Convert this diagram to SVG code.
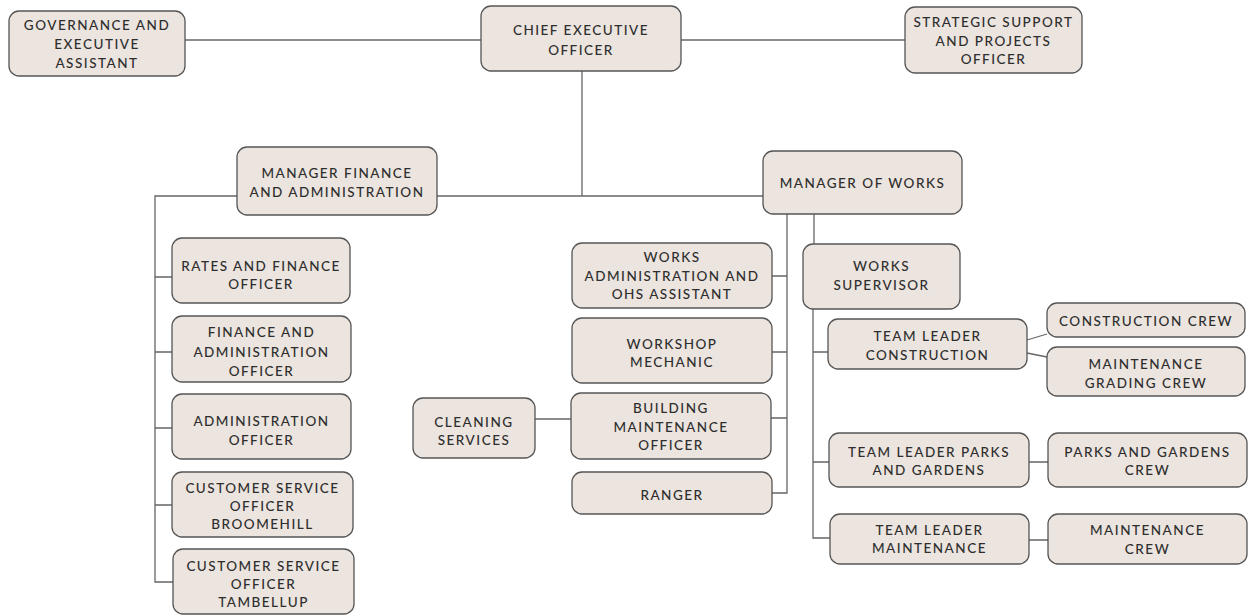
<svg xmlns="http://www.w3.org/2000/svg" width="1250" height="615" viewBox="0 0 1250 615">
<style>
.n rect{fill:#ece4de;stroke:#555;stroke-width:1.3}
.n text{font-family:Lato,"Liberation Sans",sans-serif;font-size:13.5px;letter-spacing:1.5px;fill:#2e2e2e;text-anchor:middle;font-weight:500}
#conn path{fill:none;stroke:#666;stroke-width:1.3}
</style>
<rect width="1250" height="615" fill="#fff"/>
<g id="conn">
<path d="M185,40 H481"/>
<path d="M681,40 H905"/>
<path d="M582,71 V196"/>
<path d="M437,196 H763"/>
<path d="M237,196 H155 V582 H173"/>
<path d="M155,277 H172 M155,352 H172 M155,428 H172 M155,505 H172"/>
<path d="M787,214 V493 H772 M772,276 H787 M772,352 H787 M771,418 H787"/>
<path d="M535,419 H571"/>
<path d="M814,214 V244"/>
<path d="M813,309 V538 H830 M813,352 H828 M813,462 H829"/>
<path d="M1027,340 L1047,334 M1027,353 L1047,357"/>
<path d="M1029,462 H1048 M1029,540 H1048"/>
</g>
<g id="gov" class="n"><rect x="9" y="11" width="176" height="65" rx="10"/><text x="97"><tspan x="97" y="30">GOVERNANCE AND</tspan><tspan x="97" y="49">EXECUTIVE</tspan><tspan x="97" y="68">ASSISTANT</tspan></text></g>
<g id="ceo" class="n"><rect x="481" y="6" width="200" height="65" rx="10"/><text><tspan x="581" y="35">CHIEF EXECUTIVE</tspan><tspan x="581" y="55">OFFICER</tspan></text></g>
<g id="strategic" class="n"><rect x="905" y="7" width="177" height="66" rx="10"/><text><tspan x="993.5" y="27">STRATEGIC SUPPORT</tspan><tspan x="993.5" y="46">AND PROJECTS</tspan><tspan x="993.5" y="64">OFFICER</tspan></text></g>
<g id="mfa" class="n"><rect x="237" y="147" width="200" height="68" rx="10"/><text><tspan x="337" y="178">MANAGER FINANCE</tspan><tspan x="337" y="197">AND ADMINISTRATION</tspan></text></g>
<g id="rates" class="n"><rect x="172" y="238" width="178" height="65" rx="10"/><text><tspan x="261" y="271">RATES AND FINANCE</tspan><tspan x="261" y="289">OFFICER</tspan></text></g>
<g id="finadmin" class="n"><rect x="172" y="316" width="179" height="66" rx="10"/><text><tspan x="261.5" y="337">FINANCE AND</tspan><tspan x="261.5" y="357">ADMINISTRATION</tspan><tspan x="261.5" y="376">OFFICER</tspan></text></g>
<g id="admin" class="n"><rect x="172" y="394" width="179" height="65" rx="10"/><text><tspan x="261.5" y="426">ADMINISTRATION</tspan><tspan x="261.5" y="445">OFFICER</tspan></text></g>
<g id="csbroomehill" class="n"><rect x="172" y="472" width="181" height="65" rx="10"/><text><tspan x="262.5" y="493">CUSTOMER SERVICE</tspan><tspan x="262.5" y="511">OFFICER</tspan><tspan x="262.5" y="529">BROOMEHILL</tspan></text></g>
<g id="cstambellup" class="n"><rect x="173" y="549" width="181" height="65" rx="10"/><text><tspan x="263.5" y="571">CUSTOMER SERVICE</tspan><tspan x="263.5" y="589">OFFICER</tspan><tspan x="263.5" y="607">TAMBELLUP</tspan></text></g>
<g id="mow" class="n"><rect x="763" y="151" width="199" height="63" rx="10"/><text><tspan x="862.5" y="188">MANAGER OF WORKS</tspan></text></g>
<g id="worksadmin" class="n"><rect x="572" y="243" width="200" height="65" rx="10"/><text><tspan x="672" y="262">WORKS</tspan><tspan x="672" y="281">ADMINISTRATION AND</tspan><tspan x="672" y="299">OHS ASSISTANT</tspan></text></g>
<g id="workshop" class="n"><rect x="572" y="318" width="200" height="65" rx="10"/><text><tspan x="672" y="349">WORKSHOP</tspan><tspan x="672" y="367">MECHANIC</tspan></text></g>
<g id="building" class="n"><rect x="571" y="393" width="200" height="66" rx="10"/><text><tspan x="671" y="413">BUILDING</tspan><tspan x="671" y="432">MAINTENANCE</tspan><tspan x="671" y="450">OFFICER</tspan></text></g>
<g id="cleaning" class="n"><rect x="413" y="398" width="122" height="60" rx="10"/><text><tspan x="474" y="427">CLEANING</tspan><tspan x="474" y="445">SERVICES</tspan></text></g>
<g id="ranger" class="n"><rect x="572" y="472" width="200" height="42" rx="10"/><text><tspan x="672" y="500">RANGER</tspan></text></g>
<g id="supervisor" class="n"><rect x="803" y="244" width="157" height="65" rx="10"/><text><tspan x="881.5" y="271">WORKS</tspan><tspan x="881.5" y="290">SUPERVISOR</tspan></text></g>
<g id="tlconstruction" class="n"><rect x="828" y="319" width="199" height="50" rx="10"/><text><tspan x="927.5" y="341">TEAM LEADER</tspan><tspan x="927.5" y="360">CONSTRUCTION</tspan></text></g>
<g id="constructioncrew" class="n"><rect x="1047" y="303" width="198" height="34" rx="10"/><text><tspan x="1146" y="326">CONSTRUCTION CREW</tspan></text></g>
<g id="gradingcrew" class="n"><rect x="1047" y="347" width="198" height="49" rx="10"/><text><tspan x="1146" y="369">MAINTENANCE</tspan><tspan x="1146" y="388">GRADING CREW</tspan></text></g>
<g id="tlparks" class="n"><rect x="829" y="433" width="200" height="54" rx="10"/><text><tspan x="929" y="457">TEAM LEADER PARKS</tspan><tspan x="929" y="475">AND GARDENS</tspan></text></g>
<g id="parkscrew" class="n"><rect x="1048" y="433" width="199" height="54" rx="10"/><text><tspan x="1147.5" y="457">PARKS AND GARDENS</tspan><tspan x="1147.5" y="475">CREW</tspan></text></g>
<g id="tlmaint" class="n"><rect x="830" y="514" width="199" height="50" rx="10"/><text><tspan x="929.5" y="535">TEAM LEADER</tspan><tspan x="929.5" y="553">MAINTENANCE</tspan></text></g>
<g id="maintcrew" class="n"><rect x="1048" y="514" width="199" height="50" rx="10"/><text><tspan x="1147.5" y="535">MAINTENANCE</tspan><tspan x="1147.5" y="554">CREW</tspan></text></g>
</svg>
